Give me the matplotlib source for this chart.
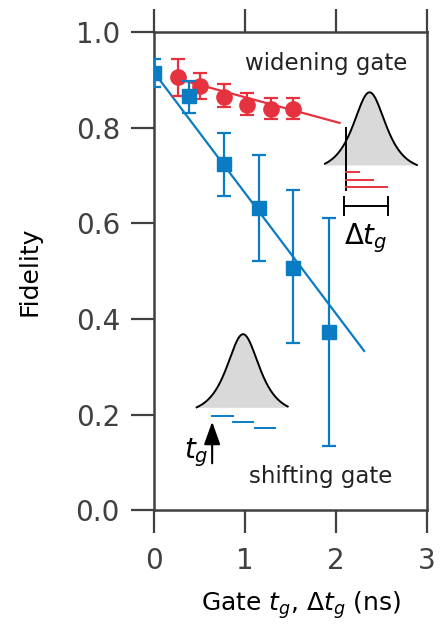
import numpy as np
import matplotlib
matplotlib.use("Agg")
import matplotlib.pyplot as plt

# shifting gate (blue squares)
shift_x = [0.0, 0.385, 0.77, 1.15, 1.53, 1.92]
shift_y = [0.915, 0.866, 0.724, 0.632, 0.506, 0.372]
shift_lo = [0.885, 0.830, 0.657, 0.521, 0.349, 0.134]
shift_hi = [0.943, 0.897, 0.789, 0.743, 0.669, 0.611]
shift_fit_x = [0.0, 2.31]
shift_fit_y = [0.916, 0.333]

# widening gate (red circles)
wide_x = [0.26, 0.51, 0.77, 1.02, 1.29, 1.53]
wide_y = [0.906, 0.887, 0.864, 0.847, 0.840, 0.840]
wide_lo = [0.867, 0.859, 0.843, 0.826, 0.818, 0.818]
wide_hi = [0.944, 0.915, 0.891, 0.872, 0.862, 0.862]
wide_fit_x = [0.26, 2.04]
wide_fit_y = [0.902, 0.810]

blue = "#0a7cc4"
red = "#e6323f"
grey = "#404040"

fig = plt.figure(figsize=(4.41, 6.29), dpi=100)
ax = fig.add_axes([0.349, 0.189, 0.619, 0.760])

def errs(y, lo, hi):
    y = np.array(y)
    return [y - np.array(lo), np.array(hi) - y]

ax.plot(shift_fit_x, shift_fit_y, color=blue, lw=1.6, zorder=2)
ax.plot(wide_fit_x, wide_fit_y, color=red, lw=1.6, zorder=2)
ax.errorbar(wide_x, wide_y, yerr=errs(wide_y, wide_lo, wide_hi), fmt="o",
            color=red, ms=11, elinewidth=1.6, capsize=5, capthick=1.6, zorder=3)
ax.errorbar(shift_x, shift_y, yerr=errs(shift_y, shift_lo, shift_hi), fmt="s",
            color=blue, ms=10.5, elinewidth=1.6, capsize=5, capthick=1.6, zorder=4)

# pulse sketches (bell shape, tails brought down to the base at the ends)
def pulse(ax, x0, x1, xc, base, peak, w):
    xx = np.linspace(x0, x1, 200)
    f = 1 / np.cosh((xx - xc) / w)
    fe = 1 / np.cosh(max(xc - x0, x1 - xc) / w)
    f = np.clip((f - fe) / (1 - fe), 0, 1)
    yy = base + (peak - base) * f
    ax.fill_between(xx, base, yy, color="#d9d9da", lw=0, zorder=1)
    ax.plot(xx, yy, color="black", lw=1.4, zorder=1)

pulse(ax, 1.88, 2.89, 2.37, 0.722, 0.874, 0.16)
pulse(ax, 0.47, 1.47, 0.98, 0.215, 0.368, 0.16)

# widening gate marks
ax.plot([2.11, 2.11], [0.67, 0.80], color="black", lw=1.4)
for yv, xe in zip([0.707, 0.690, 0.676], [2.25, 2.41, 2.56]):
    ax.plot([2.11, xe], [yv, yv], color=red, lw=1.4)
ax.plot([2.09, 2.57], [0.636, 0.636], color="black", lw=1.4)
ax.plot([2.09, 2.09], [0.617, 0.655], color="black", lw=1.4)
ax.plot([2.57, 2.57], [0.617, 0.655], color="black", lw=1.4)
ax.text(2.33, 0.568, r"$\Delta t_g$", fontsize=20, ha="center", va="center")

# shifting gate marks
for yv, xa, xb in zip([0.197, 0.184, 0.172], [0.64, 0.87, 1.11], [0.87, 1.09, 1.33]):
    ax.plot([xa, xb], [yv, yv], color=blue, lw=1.4)
ax.annotate("", xy=(0.64, 0.185), xytext=(0.64, 0.098),
            arrowprops=dict(arrowstyle="-|>,head_length=1.4,head_width=0.5",
                            color="black", lw=1.5, shrinkA=0, shrinkB=0))
ax.text(0.46, 0.12, r"$t_g$", fontsize=20, ha="center", va="center")

ax.text(1.0, 0.935, "widening gate", fontsize=16.5, color="#222222", va="center")
ax.text(1.05, 0.071, "shifting gate", fontsize=16.5, color="#222222", va="center")

ax.set_xlim(0, 3)
ax.set_ylim(0, 1.0)
ax.set_xticks([0, 1, 2, 3])
ax.set_yticks([0.0, 0.2, 0.4, 0.6, 0.8, 1.0])
ax.set_yticklabels(["0.0", "0.2", "0.4", "0.6", "0.8", "1.0"])
for s in ax.spines.values():
    s.set_color(grey)
    s.set_linewidth(1.8)
ax.tick_params(axis="both", direction="out", length=16.5, width=1.6,
               color=grey, labelsize=20, labelcolor=grey, pad=8)
ax.tick_params(axis="x", top=True, pad=10)
ax.set_xlabel(r"Gate $t_g$, $\Delta t_g$ (ns)", fontsize=18, labelpad=10)
ax.xaxis.set_label_coords(0.54, -0.165)
ax.set_ylabel("Fidelity", fontsize=18)
ax.yaxis.set_label_coords(-0.41, 0.5)

fig.savefig("out.png", dpi=100)
